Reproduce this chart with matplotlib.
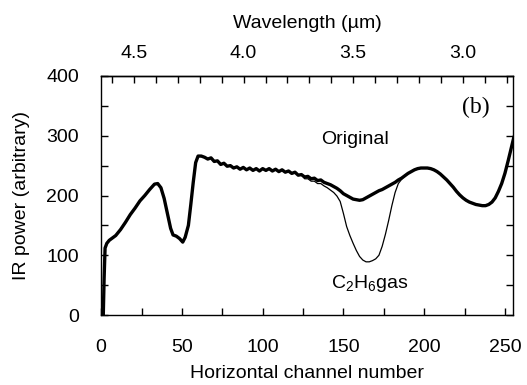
import numpy as np
import matplotlib
matplotlib.use("Agg")
import matplotlib.pyplot as plt
from matplotlib.ticker import MultipleLocator, FixedLocator, NullFormatter, FormatStrFormatter

plt.rcParams["font.family"] = ["Liberation Sans", "DejaVu Sans"]
plt.rcParams["mathtext.fontset"] = "custom"
plt.rcParams["mathtext.rm"] = "Liberation Sans"
plt.rcParams["mathtext.default"] = "regular"

# IR power spectrum without gas ("Original")
orig_ch = [1.3, 1.8, 2.4, 3.5, 5, 7, 9, 12, 15, 18, 21, 24, 27, 30, 33, 35, 37, 39,
           41, 43, 44.5, 46.5, 48.5, 50.5, 52, 54, 55.5, 57, 58.5, 60, 62, 64, 66,
           68, 70, 72, 74, 76, 78, 80, 82, 84, 86, 88, 90, 92, 94, 96, 98, 100,
           102, 104, 106, 108, 110, 112, 114, 116, 118, 120, 122, 124, 126, 128,
           130, 132, 134, 136, 138, 140, 142, 144, 146, 148, 150, 152, 154, 156,
           158, 160, 162, 164, 166, 168, 170, 172, 174, 176, 178, 180, 182, 184,
           186, 188, 190, 192, 194, 196, 198, 200, 202, 204, 206, 208, 210, 212,
           214, 216, 218, 220, 222, 224, 226, 228, 230, 232, 234, 236, 238, 240,
           242, 244, 246, 248, 250, 252, 254, 255.5]
orig_val = [0, 60, 112, 120, 125, 129, 133, 143, 155, 168, 179, 191, 200, 210, 219,
            220, 213, 195, 170, 145, 134, 132, 128, 122, 130, 150, 185, 222, 255,
            266, 266, 264, 261, 263, 257, 258, 252, 254, 249, 250, 246, 248, 244,
            247, 243, 246, 242, 245, 241, 245, 242, 245, 241, 244, 240, 243, 239,
            241, 237, 239, 234, 235, 231, 232, 228, 229, 225, 226, 222, 220, 218,
            215, 212, 208, 203, 200, 197, 194, 193, 192, 193, 196, 199, 202, 205,
            208, 210, 213, 216, 219, 222, 226, 229, 233, 237, 240, 243, 245, 246,
            246, 246, 245, 243, 240, 236, 231, 226, 220, 214, 207, 201, 196, 192,
            189, 187, 185, 184, 183, 183, 185, 189, 196, 207, 220, 237, 258, 280,
            297]

# IR power with C2H6 gas, where it departs from the original spectrum
gas_ch = [126, 128, 130, 132, 134, 136, 138, 140, 142, 144, 146, 148, 150, 152,
          154, 156, 158, 160, 162, 164, 166, 168, 170, 172, 174, 176, 178, 180,
          182, 184, 186, 188]
gas_val = [228, 228, 224, 224, 220, 220, 216, 213, 209, 205, 199, 190, 170, 148,
           133, 120, 108, 98, 92, 89, 89, 91, 94, 100, 115, 135, 158, 183, 205,
           220, 227, 233]

# Wavelength scale on the top axis (linear in channel number)
wl_ticks_major = [4.5, 4.0, 3.5, 3.0]
wl_ticks_minor = [4.6, 4.4, 4.3, 4.2, 4.1, 3.9, 3.8, 3.7, 3.6, 3.4, 3.3, 3.2, 3.1, 2.9, 2.8]


def ch_to_wl(ch):
    return 4.5 - (np.asarray(ch, dtype=float) - 20.3) * 0.007364


def wl_to_ch(wl):
    return 20.3 + (4.5 - np.asarray(wl, dtype=float)) / 0.007364


FS = 14

fig = plt.figure(figsize=(5.27, 3.85), dpi=100)
ax = fig.add_axes([0.192, 0.1818, 0.7814, 0.6208])

# gas curve: original outside the absorption window, measured values inside
o_ch = np.array(orig_ch)
o_val = np.array(orig_val)
lo, hi = gas_ch[0], gas_ch[-1]
g_ch = np.concatenate([o_ch[o_ch < lo], gas_ch, o_ch[o_ch > hi]])
g_val = np.concatenate([o_val[o_ch < lo], gas_val, o_val[o_ch > hi]])

ax.plot(orig_ch, orig_val, color="black", lw=2.4, solid_joinstyle="round")
ax.plot(g_ch, g_val, color="black", lw=0.9)

ax.set_xlim(0, 255)
ax.set_ylim(0, 400)
ax.xaxis.set_major_locator(MultipleLocator(50))
ax.xaxis.set_minor_locator(MultipleLocator(25))
ax.yaxis.set_major_locator(MultipleLocator(100))
ax.yaxis.set_minor_locator(MultipleLocator(50))
ax.tick_params(axis="both", which="both", direction="in", length=5, width=1,
               labelsize=FS)
ax.tick_params(axis="x", which="both", bottom=True, top=False, pad=17)
ax.tick_params(axis="y", which="both", left=True, right=True, pad=16)
for s in ax.spines.values():
    s.set_linewidth(1)

ax.set_xlabel("Horizontal channel number", fontsize=FS, labelpad=7)
ax.set_ylabel("IR power (arbitrary)", fontsize=FS, labelpad=12)

top = ax.secondary_xaxis("top", functions=(ch_to_wl, wl_to_ch))
top.xaxis.set_major_locator(FixedLocator(wl_ticks_major))
top.xaxis.set_minor_locator(FixedLocator(wl_ticks_minor))
top.xaxis.set_minor_formatter(NullFormatter())
top.xaxis.set_major_formatter(FormatStrFormatter("%.1f"))
top.tick_params(axis="x", which="both", direction="in", length=5, width=1,
                labelsize=FS, pad=10)
top.spines["top"].set_linewidth(1)
top.set_xlabel("Wavelength (µm)", fontsize=FS, labelpad=12)

ax.text(157, 293, "Original", fontsize=FS, ha="center", va="center")
ax.text(166, 53, "C$_2$H$_6$gas", fontsize=FS, ha="center", va="center")
ax.text(232, 347, "(b)", fontsize=17, ha="center", va="center",
        family=["Liberation Serif", "DejaVu Serif"])

fig.savefig("out.png", dpi=100)
